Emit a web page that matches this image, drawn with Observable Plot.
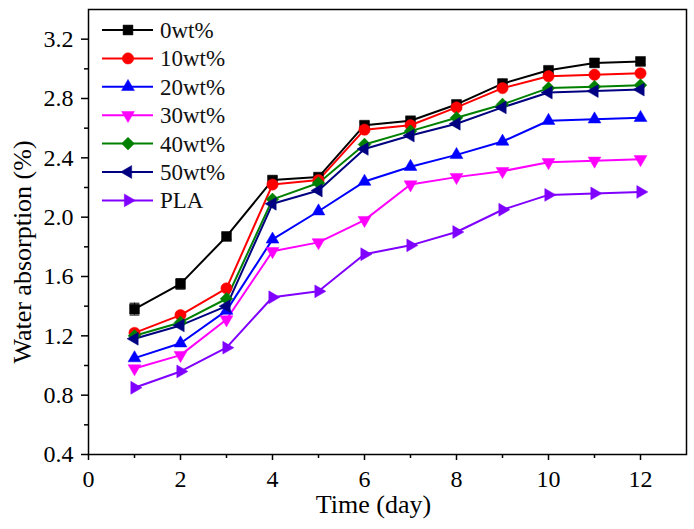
<!DOCTYPE html>
<html>
<head>
<meta charset="utf-8">
<script src="https://cdn.jsdelivr.net/npm/d3@7"></script>
<script src="https://cdn.jsdelivr.net/npm/@observablehq/plot@0.6"></script>
<style>
  body { margin: 0; background: #fff; }
  #wrap { position: relative; width: 694px; height: 529px; }
  #wrap svg { font-family: "Liberation Serif", "Times New Roman", serif; }
  #legend { position: absolute; left: 0; top: 0; pointer-events: none; }
</style>
</head>
<body>
<div id="wrap"></div>
<script>
// ---- data ----
const days = [1, 2, 3, 4, 5, 6, 7, 8, 9, 10, 11, 12];
const seriesNames = ["0wt%", "10wt%", "20wt%", "30wt%", "40wt%", "50wt%", "PLA"];
const s0 = [1.38, 1.55, 1.87, 2.25, 2.27, 2.62, 2.65, 2.76, 2.90, 2.99, 3.04, 3.05];
const s10 = [1.22, 1.34, 1.52, 2.22, 2.25, 2.59, 2.62, 2.74, 2.87, 2.95, 2.96, 2.97];
const s20 = [1.05, 1.15, 1.37, 1.85, 2.04, 2.24, 2.34, 2.42, 2.51, 2.65, 2.66, 2.67];
const s30 = [0.98, 1.07, 1.31, 1.77, 1.83, 1.98, 2.22, 2.27, 2.31, 2.37, 2.38, 2.39];
const s40 = [1.20, 1.29, 1.45, 2.12, 2.23, 2.49, 2.58, 2.67, 2.76, 2.87, 2.88, 2.89];
const s50 = [1.18, 1.27, 1.40, 2.09, 2.18, 2.46, 2.55, 2.63, 2.74, 2.84, 2.85, 2.86];
const sPLA = [0.85, 0.96, 1.12, 1.46, 1.50, 1.75, 1.81, 1.90, 2.05, 2.15, 2.16, 2.17];
const err0 = [0.04, 0.035, 0.02, 0.02, 0.015, 0.02, 0.02, 0.025, 0.03, 0.02, 0.025, 0.02];
const yTicks = [0.4, 0.8, 1.2, 1.6, 2.0, 2.4, 2.8, 3.2];
const yMinorTicks = [0.6, 1.0, 1.4, 1.8, 2.2, 2.6, 3.0];
const xTicks = [0, 2, 4, 6, 8, 10, 12];
const xMinorTicks = [1, 3, 5, 7, 9, 11];

// ---- styles ----
const colors = ["#000000", "#ff0000", "#0000ff", "#ff00ff", "#008000", "#000080", "#8000ff"];
const SERIF = "Liberation Serif, Times New Roman, serif";

function tri(angle) {
  return {
    draw(ctx, size) {
      const r = Math.sqrt(size) * 0.72;
      for (let i = 0; i < 3; i++) {
        const a = angle + i * 2 * Math.PI / 3;
        const x = r * Math.cos(a), y = r * Math.sin(a);
        if (i === 0) ctx.moveTo(x, y); else ctx.lineTo(x, y);
      }
      ctx.closePath();
    }
  };
}
const sq = { draw(ctx, size) { const h = Math.sqrt(size) * 0.48; ctx.rect(-h, -h, 2 * h, 2 * h); } };
const circ = { draw(ctx, size) { const r = Math.sqrt(size) * 0.55; ctx.moveTo(r, 0); ctx.arc(0, 0, r, 0, 2 * Math.PI); } };
const dia = { draw(ctx, size) { const r = Math.sqrt(size) * 0.62; ctx.moveTo(0, -r); ctx.lineTo(r, 0); ctx.lineTo(0, r); ctx.lineTo(-r, 0); ctx.closePath(); } };
const cap = { draw(ctx, size) { const h = Math.sqrt(size) * 0.55; ctx.moveTo(-h, 0); ctx.lineTo(h, 0); } };
const symbols = [sq, circ, tri(-Math.PI / 2), tri(Math.PI / 2), dia, tri(Math.PI), tri(0)];
const R = 5.8;

const allSeries = [s0, s10, s20, s30, s40, s50, sPLA];
const rows = [];
allSeries.forEach((vals, i) => days.forEach((d, j) => rows.push({ series: seriesNames[i], day: d, value: vals[j], idx: i })));
const errRows = days.map((d, j) => ({ day: d, lo: s0[j] - err0[j], hi: s0[j] + err0[j] }));

const marks = [];
// axes
marks.push(Plot.axisY(yTicks, { tickSize: 7, tickPadding: 8, tickFormat: d3.format(".1f"), fontSize: 24, strokeWidth: 1.5, label: null, fontFamily: SERIF }));
marks.push(Plot.axisX(xTicks, { tickSize: 6, tickPadding: 9, fontSize: 24, strokeWidth: 1.5, label: null, fontFamily: SERIF }));
marks.push(Plot.axisY(yMinorTicks, { tickSize: 4, tickFormat: () => "", strokeWidth: 1.5, label: null }));
marks.push(Plot.axisX(xMinorTicks, { tickSize: 4, tickFormat: () => "", strokeWidth: 1.5, label: null }));
marks.push(Plot.frame({ stroke: "black", strokeWidth: 1.5 }));

// error bars for 0wt%
marks.push(Plot.ruleX(errRows, { x: "day", y1: "lo", y2: "hi", stroke: "black", strokeWidth: 1 }));
marks.push(Plot.dot(errRows, { x: "day", y: "lo", symbol: cap, stroke: "black", strokeWidth: 1, r: 5 }));
marks.push(Plot.dot(errRows, { x: "day", y: "hi", symbol: cap, stroke: "black", strokeWidth: 1, r: 5 }));

// lines and markers
allSeries.forEach((vals, i) => {
  const data = rows.filter(r => r.idx === i);
  marks.push(Plot.line(data, { x: "day", y: "value", stroke: colors[i], strokeWidth: 2 }));
});
allSeries.forEach((vals, i) => {
  const data = rows.filter(r => r.idx === i);
  marks.push(Plot.dot(data, { x: "day", y: "value", symbol: symbols[i], fill: colors[i], stroke: colors[i], strokeWidth: 0.5, r: R }));
});

// axis titles
marks.push(Plot.text(["Water absorption (%)"], { frameAnchor: "left", textAnchor: "middle", dx: -66, dy: 20, rotate: -90, fontSize: 26, fill: "black", fontFamily: SERIF }));
marks.push(Plot.text(["Time (day)"], { frameAnchor: "bottom", dx: -14, dy: 58, fontSize: 26, fill: "black", fontFamily: SERIF }));

const chart = Plot.plot({
  width: 694,
  height: 529,
  marginLeft: 88,
  marginRight: 8,
  marginTop: 9,
  marginBottom: 75,
  style: { fontFamily: SERIF, fontSize: "24px", color: "black", background: "white" },
  x: { type: "linear", domain: [0, 13], axis: null },
  y: { type: "linear", domain: [0.4, 3.4], axis: null },
  marks
});
document.getElementById("wrap").appendChild(chart);

// legend (overlay, drawn with d3)
const leg = d3.select("#wrap").append("svg").attr("id", "legend").attr("width", 694).attr("height", 529)
  .style("font-family", SERIF);
seriesNames.forEach((name, i) => {
  const y = 30 + i * 28.4;
  const g = leg.append("g").attr("transform", `translate(0,${y})`);
  g.append("line").attr("x1", 102).attr("x2", 153).attr("y1", 0).attr("y2", 0).attr("stroke", colors[i]).attr("stroke-width", 2);
  g.append("path").attr("d", d3.symbol().type(symbols[i]).size(Math.PI * R * R)()).attr("transform", "translate(128,0)")
    .attr("fill", colors[i]).attr("stroke", colors[i]).attr("stroke-width", 0.5);
  g.append("text").attr("x", 160).attr("y", 0).attr("dy", "0.35em").attr("font-size", 23).attr("fill", "#111").text(name);
});
</script>
</body>
</html>
